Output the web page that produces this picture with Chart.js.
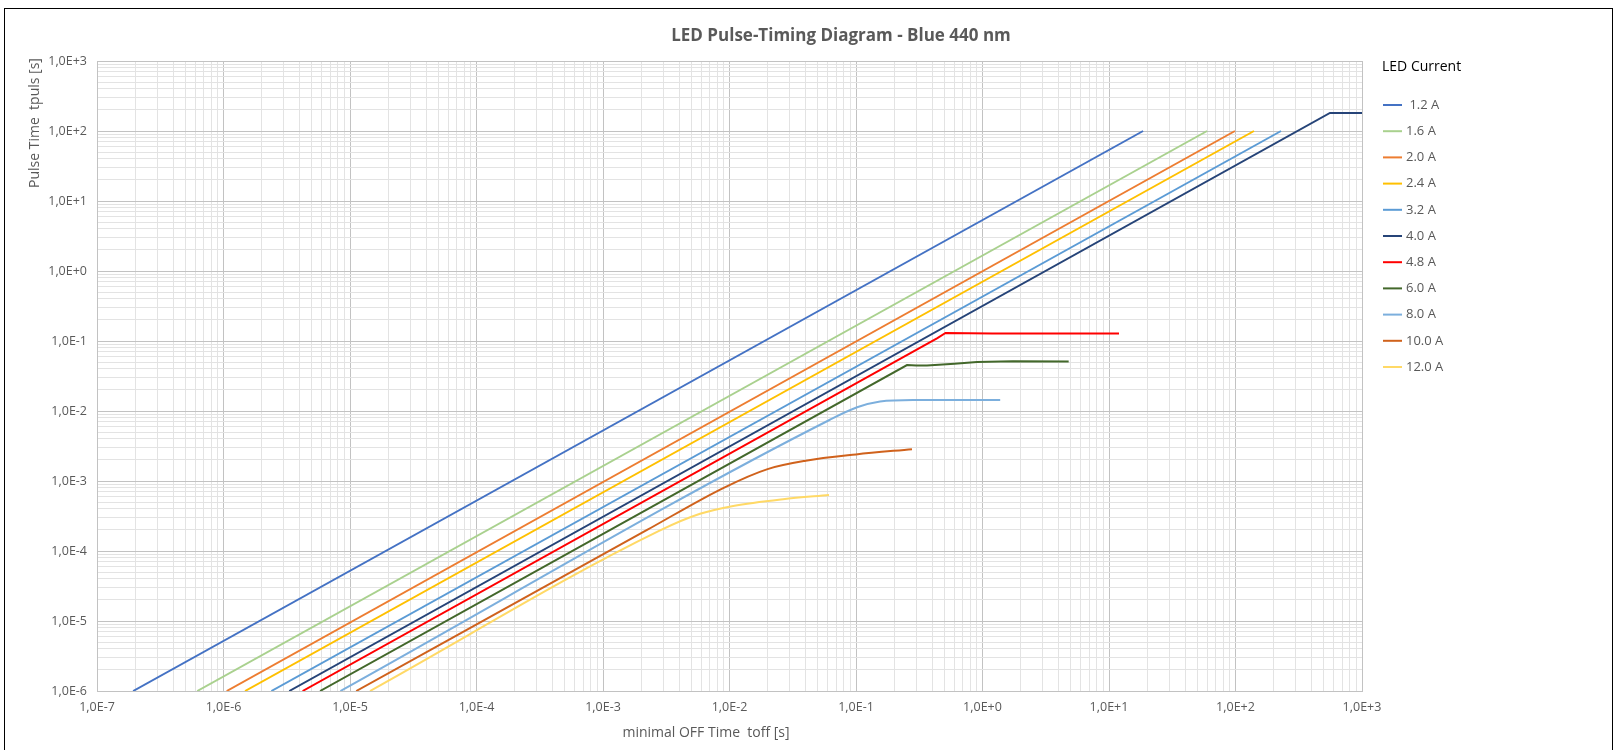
<!DOCTYPE html>
<html>
<head>
<meta charset="utf-8">
<title>LED Pulse-Timing Diagram</title>
<script src="https://cdn.jsdelivr.net/npm/chart.js@4.4.1/dist/chart.umd.min.js"></script>
<style>
  body { margin: 0; background: #fff; }
  canvas { display: block; }
</style>
</head>
<body>
<canvas id="myChart" width="1615" height="750"></canvas>
<script>
const chartTitle = 'LED Pulse-Timing Diagram - Blue 440 nm'
const xTitle = 'minimal OFF Time  toff [s]'
const yTitle = 'Pulse Time  tpuls [s]'
const legendTitle = 'LED Current'

const xTickLabels = ['1,0E-7', '1,0E-6', '1,0E-5', '1,0E-4', '1,0E-3', '1,0E-2', '1,0E-1', '1,0E+0', '1,0E+1', '1,0E+2', '1,0E+3']
const yTickLabels = ['1,0E-6', '1,0E-5', '1,0E-4', '1,0E-3', '1,0E-2', '1,0E-1', '1,0E+0', '1,0E+1', '1,0E+2', '1,0E+3']

const currents = [' 1.2 A', '1.6 A', '2.0 A', '2.4 A', '3.2 A', '4.0 A', '4.8 A', '6.0 A', '8.0 A', '10.0 A', '12.0 A']
const colors = ['#4472C4', '#A9D18E', '#ED7D31', '#FFC000', '#5B9BD5', '#264478', '#FF0000', '#43682B', '#7CAFDD', '#D0621C', '#FFD966']
// the three high-current curves bend smoothly, the rest have sharp corners
const smooth = [false, false, false, false, false, false, false, false, true, true, true]

// toff [s] and tpuls [s] for each LED current
const toff_1A2 = [1.93e-7, 18.6]
const tpuls_1A2 = [1e-6, 100]
const toff_1A6 = [6.2e-7, 59.6]
const tpuls_1A6 = [1e-6, 100]
const toff_2A0 = [1.06e-6, 99]
const tpuls_2A0 = [1e-6, 100]
const toff_2A4 = [1.48e-6, 140]
const tpuls_2A4 = [1e-6, 100]
const toff_3A2 = [2.39e-6, 229]
const tpuls_3A2 = [1e-6, 100]
const toff_4A0 = [3.31e-6, 558, 1000]
const tpuls_4A0 = [1e-6, 181, 181]
const toff_4A8 = [4.22e-6, 0.44, 0.51, 1.2, 12]
const tpuls_4A8 = [1e-6, 0.110, 0.130, 0.128, 0.128]
const toff_6A0 = [5.8e-6, 0.253, 0.30, 0.364, 0.6, 0.906, 1.74, 4.8]
const tpuls_6A0 = [1e-6, 0.0454, 0.0446, 0.0446, 0.0475, 0.0500, 0.0512, 0.0508]
const toff_8A0 = [8.4e-6, 0.0622, 0.102, 0.155, 0.282, 1.38]
const tpuls_8A0 = [1e-6, 0.0075, 0.0113, 0.0137, 0.0144, 0.0144]
const toff_10A = [1.12e-5, 0.00223, 0.009, 0.02, 0.04, 0.1, 0.277]
const tpuls_10A = [1e-6, 2.0e-4, 8.0e-4, 1.48e-3, 1.95e-3, 2.4e-3, 2.85e-3]
const toff_12A = [1.44e-5, 0.0028, 0.00585, 0.0107, 0.0265, 0.0612]
const tpuls_12A = [1e-6, 1.95e-4, 3.4e-4, 4.4e-4, 5.5e-4, 6.3e-4]

const allToff = [toff_1A2, toff_1A6, toff_2A0, toff_2A4, toff_3A2, toff_4A0, toff_4A8, toff_6A0, toff_8A0, toff_10A, toff_12A]
const allTpuls = [tpuls_1A2, tpuls_1A6, tpuls_2A0, tpuls_2A4, tpuls_3A2, tpuls_4A0, tpuls_4A8, tpuls_6A0, tpuls_8A0, tpuls_10A, tpuls_12A]

const gridMajor = '#c2c2c2'
const gridMinor = '#e3e3e3'
const textGrey = '#595959'

function isDecade(v) {
  let e = Math.log10(v)
  return Math.abs(e - Math.round(e)) < 1e-6
}

// 1..9 x 10^n ticks so every minor grid line is there
function logTicks(scale) {
  let ticks = []
  let lo = Math.round(Math.log10(scale.min))
  let hi = Math.round(Math.log10(scale.max))
  for (let e = lo; e <= hi; e++) {
    for (let m = 1; m <= 9; m++) {
      if (e == hi && m > 1) break
      ticks.push({ value: m * Math.pow(10, e), major: m == 1 })
    }
  }
  scale.ticks = ticks
}

let datasets = []
for (let i = 0; i < currents.length; i++) {
  let pts = []
  for (let j = 0; j < allToff[i].length; j++) pts.push({ x: allToff[i][j], y: allTpuls[i][j] })
  datasets.push({
    label: currents[i],
    data: pts,
    borderColor: colors[i],
    backgroundColor: colors[i],
    borderWidth: 2,
    pointRadius: 0,
    fill: false,
    tension: 0,
    cubicInterpolationMode: smooth[i] ? 'monotone' : 'default'
  })
}

const decorations = {
  id: 'decorations',
  beforeDraw(chart) {
    let c = chart.ctx
    c.save()
    c.fillStyle = '#fff'
    c.fillRect(0, 0, chart.width, chart.height)
    c.restore()
  },
  afterDraw(chart) {
    let c = chart.ctx
    c.save()
    // title
    c.fillStyle = textGrey
    c.font = 'bold 17px "Open Sans"'
    c.textAlign = 'center'
    c.textBaseline = 'middle'
    c.fillText(chartTitle, 841, 36)
    // axis titles
    c.font = '14px "Open Sans"'
    c.fillText(xTitle, 706, 733)
    c.save()
    c.translate(35, 123)
    c.rotate(-Math.PI / 2)
    c.fillText(yTitle, 0, 0)
    c.restore()
    // legend
    c.textAlign = 'left'
    c.fillStyle = '#000'
    c.font = '14px "Open Sans"'
    c.fillText(legendTitle, 1382, 67)
    c.font = '13px "Open Sans"'
    for (let i = 0; i < currents.length; i++) {
      let y = 105 + i * 26.2
      c.strokeStyle = colors[i]
      c.lineWidth = 2
      c.beginPath()
      c.moveTo(1383, y)
      c.lineTo(1402, y)
      c.stroke()
      c.fillStyle = textGrey
      c.fillText(currents[i], 1406, y)
    }
    // outer frame
    c.strokeStyle = '#000'
    c.lineWidth = 1
    c.strokeRect(4.5, 8.5, 1608, 800)
    c.restore()
  }
}

var ctx = document.getElementById('myChart').getContext('2d')
var myChart = new Chart(ctx, {
  type: 'line',
  data: { datasets: datasets },
  plugins: [decorations],
  options: {
    responsive: false,
    animation: false,
    layout: { padding: { left: 0, top: 61, right: 253, bottom: 0 } },
    plugins: {
      legend: { display: false },
      title: { display: false },
      tooltip: { enabled: false }
    },
    scales: {
      x: {
        type: 'logarithmic',
        min: 1e-7,
        max: 1e3,
        afterBuildTicks: logTicks,
        afterFit: (scale) => { scale.height = 59 },
        border: { color: gridMajor },
        grid: {
          drawTicks: false,
          color: (c) => isDecade(c.tick.value) ? gridMajor : gridMinor
        },
        ticks: {
          autoSkip: false,
          maxRotation: 0,
          minRotation: 0,
          padding: 9,
          color: textGrey,
          font: { family: 'Open Sans', size: 12.5 },
          callback: (v) => isDecade(v) ? xTickLabels[Math.round(Math.log10(v)) + 7] : ''
        }
      },
      y: {
        type: 'logarithmic',
        min: 1e-6,
        max: 1e3,
        afterBuildTicks: logTicks,
        afterFit: (scale) => { scale.width = 97 },
        border: { color: gridMajor },
        grid: {
          drawTicks: false,
          color: (c) => isDecade(c.tick.value) ? gridMajor : gridMinor
        },
        ticks: {
          autoSkip: false,
          padding: 10,
          color: textGrey,
          font: { family: 'Open Sans', size: 12.5 },
          callback: (v) => isDecade(v) ? yTickLabels[Math.round(Math.log10(v)) + 6] : ''
        }
      }
    }
  }
})
</script>
</body>
</html>
